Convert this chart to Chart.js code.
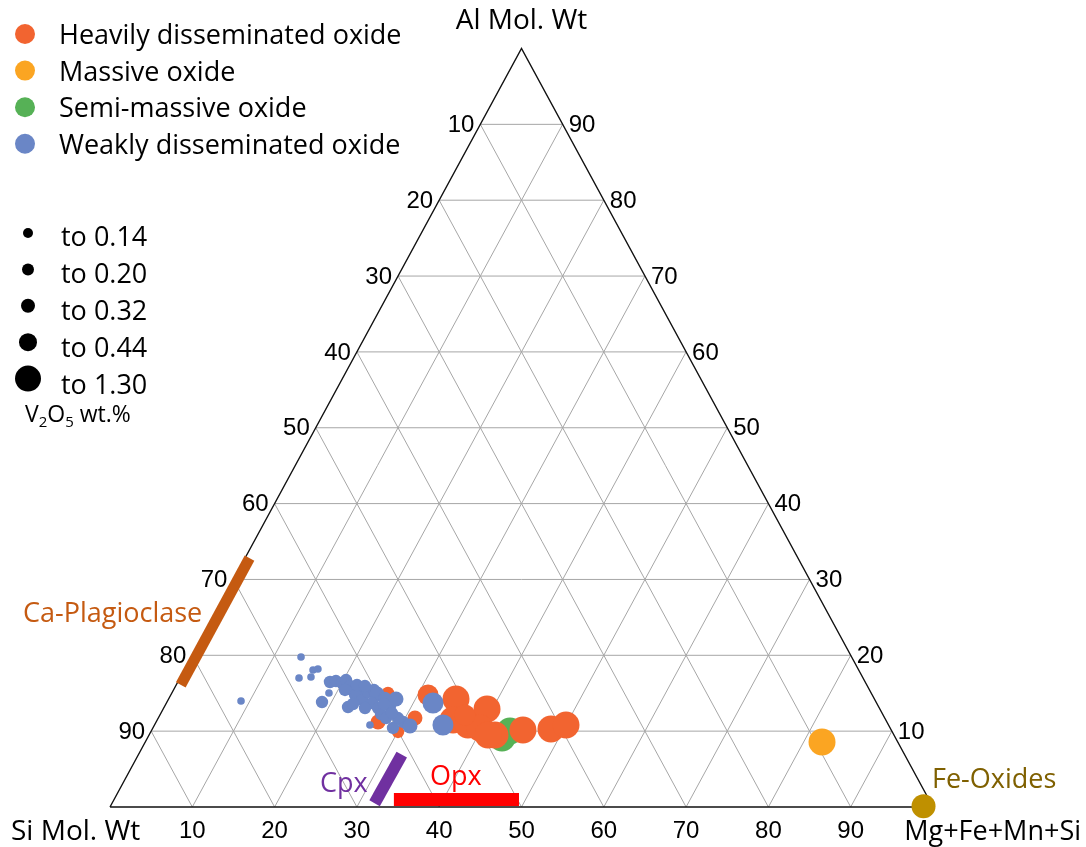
<!DOCTYPE html>
<html>
<head>
<meta charset="utf-8">
<script src="https://cdn.jsdelivr.net/npm/chart.js@4/dist/chart.umd.min.js"></script>
<style>
html,body{margin:0;padding:0;background:#fff;}
#wrap{width:1086px;height:847px;position:relative;}
</style>
</head>
<body>
<div id="wrap"><canvas id="c"></canvas></div>
<script>
// ---------- tick values / labels ----------
const gridTicks = [10, 20, 30, 40, 50, 60, 70, 80, 90];
const leftTickLabels = ['10', '20', '30', '40', '50', '60', '70', '80', '90'];   // placed at Al = 90 ... 10
const rightTickLabels = ['90', '80', '70', '60', '50', '40', '30', '20', '10'];  // placed at Al = 90 ... 10
const bottomTickLabels = ['10', '20', '30', '40', '50', '60', '70', '80', '90']; // Mg+Fe+Mn+Si = 10 ... 90

// ---------- series (ternary: Al %, Mg+Fe+Mn+Si %, V2O5 wt.%) ----------
const heavyAl = [15.03, 11.21, 9.89, 11.73, 14.77, 14.24, 12.92, 11.47, 10.81, 10.42, 9.49, 10.15, 10.28, 10.81, 9.49, 12.13];
const heavyMF = [26.26, 26.96, 30.05, 31.19, 31.26, 34.92, 39.35, 35.94, 38.09, 39.75, 42.03, 45.10, 48.44, 50.00, 41.18, 37.06];
const heavyV  = [0.18, 0.28, 0.18, 0.28, 0.40, 0.80, 0.90, 0.80, 0.80, 0.75, 0.80, 0.85, 0.85, 0.80, 0.75, 0.40];

const massiveAl = [8.57];
const massiveMF = [82.23];
const massiveV  = [0.85];

const semiAl = [9.10, 10.02];
const semiMF = [43.08, 43.59];
const semiV  = [0.80, 0.85];

const weakAl = [13.98, 19.78, 18.06, 18.19, 17.01, 17.14, 15.03, 13.84, 16.48, 16.61, 16.35, 16.74, 15.95, 15.56, 15.03, 14.77, 14.11, 13.18, 13.58, 15.16, 15.42, 14.90, 13.71, 13.05, 12.26, 11.73, 13.32, 14.24, 14.37, 10.81, 10.42, 11.21, 10.68, 13.71, 10.81, 11.73, 13.05, 16.08, 15.95, 15.43, 13.58, 12.39];
const weakMF = [8.93, 13.32, 15.64, 16.17, 14.46, 15.85, 19.09, 18.84, 18.49, 19.15, 20.02, 20.31, 21.18, 22.11, 22.86, 22.39, 23.57, 22.33, 22.74, 23.77, 24.37, 24.99, 24.98, 26.04, 26.80, 27.67, 27.36, 27.63, 26.22, 26.18, 29.18, 30.00, 31.11, 32.39, 35.05, 29.12, 24.46, 21.97, 23.00, 20.84, 26.50, 28.06];
const weakV  = [0.12, 0.12, 0.12, 0.12, 0.12, 0.12, 0.12, 0.18, 0.18, 0.18, 0.18, 0.18, 0.18, 0.18, 0.18, 0.18, 0.18, 0.18, 0.18, 0.18, 0.18, 0.28, 0.18, 0.18, 0.18, 0.18, 0.18, 0.28, 0.18, 0.12, 0.18, 0.18, 0.28, 0.40, 0.40, 0.18, 0.18, 0.18, 0.18, 0.18, 0.18, 0.18];

// V2O5 size classes (legend)
const sizeLimits = [0.14, 0.20, 0.32, 0.44, 1.30];
const sizeLabels = ['to 0.14', 'to 0.20', 'to 0.32', 'to 0.44', 'to 1.30'];

// reference mineral compositions (ternary Al %, Mg+Fe+Mn+Si %)
const caPlagAl = [16.1, 32.8]; const caPlagMF = [0.55, 0.55];
const cpxAl = [0.5, 6.9];       const cpxMF = [31.9, 32.0];
const opxAl = [0.99, 0.99];     const opxMF = [34.0, 49.2];
const feOxAl = [0.1];           const feOxMF = [98.8];

// ---------- helpers ----------
const tern = (mf, al) => ({ x: mf + al / 2, y: al });
const radiusFor = v => { const r = [3.8, 6.2, 7.5, 10.5, 13.5]; for (let i = 0; i < sizeLimits.length; i++) if (v <= sizeLimits[i]) return r[i]; return 13.5; };
const pts = (al, mf) => al.map((a, i) => tern(mf[i], a));

const COL = { heavy: '#F26430', massive: '#FBA522', semi: '#56B156', weak: '#6A86C6' };

const datasets = [];
// grid
gridTicks.forEach(k => {
  const g = { showLine: true, borderColor: '#a6a6a6', borderWidth: 1, pointRadius: 0, order: 100, clip: false };
  datasets.push(Object.assign({ data: [tern(0, k), tern(100 - k, k)] }, g));
  datasets.push(Object.assign({ data: [tern(k, 0), tern(k, 100 - k)] }, g));
  datasets.push(Object.assign({ data: [tern(k, 0), tern(0, k)] }, g));
});
// outline
datasets.push({ data: [tern(0, 0), tern(100, 0), tern(0, 100), tern(0, 0)], showLine: true, borderColor: '#111', borderWidth: 1.4, pointRadius: 0, order: 90, clip: false });
// mineral bars
datasets.push({ data: pts(caPlagAl, caPlagMF), showLine: true, borderColor: '#C55A11', borderWidth: 11, borderCapStyle: 'butt', pointRadius: 0, order: 50, clip: false });
datasets.push({ data: pts(cpxAl, cpxMF), showLine: true, borderColor: '#7030A0', borderWidth: 12, borderCapStyle: 'butt', pointRadius: 0, order: 50, clip: false });
datasets.push({ data: pts(opxAl, opxMF), showLine: true, borderColor: '#FF0000', borderWidth: 13, borderCapStyle: 'butt', pointRadius: 0, order: 50, clip: false });
datasets.push({ data: pts(feOxAl, feOxMF), pointRadius: 12, pointBackgroundColor: '#BF9000', pointBorderWidth: 0, order: 5, clip: false });
// series
const series = [
  { label: 'Semi-massive oxide', al: semiAl, mf: semiMF, v: semiV, c: COL.semi, order: 13 },
  { label: 'Massive oxide', al: massiveAl, mf: massiveMF, v: massiveV, c: COL.massive, order: 12 },
  { label: 'Heavily disseminated oxide', al: heavyAl, mf: heavyMF, v: heavyV, c: COL.heavy, order: 11 },
  { label: 'Weakly disseminated oxide', al: weakAl, mf: weakMF, v: weakV, c: COL.weak, order: 10 }
];
series.forEach(s => {
  datasets.push({ label: s.label, data: pts(s.al, s.mf), pointRadius: s.v.map(radiusFor), pointBackgroundColor: s.c, pointBorderWidth: 0, order: s.order, clip: false });
});

const SANS = '"Open Sans", "Noto Sans", sans-serif';
const ARIAL = '"Liberation Sans", Arial, sans-serif';

const textPlugin = {
  id: 'ternaryText',
  afterDatasetsDraw(chart) {
    const ctx = chart.ctx, xs = chart.scales.x, ys = chart.scales.y;
    const P = (mf, al) => ({ x: xs.getPixelForValue(mf + al / 2), y: ys.getPixelForValue(al) });
    const txt = (s, x, y, font, color, align, base) => {
      ctx.font = font; ctx.fillStyle = color; ctx.textAlign = align || 'left'; ctx.textBaseline = base || 'alphabetic'; ctx.fillText(s, x, y);
    };
    ctx.save();
    // tick labels
    gridTicks.forEach((k, i) => {
      const al = 100 - k;
      const l = P(0, al);
      txt(leftTickLabels[i], l.x - 6, l.y + 1, '24px ' + ARIAL, '#000', 'right', 'middle');
      const r = P(100 - al, al);
      txt(rightTickLabels[i], r.x + 6, r.y + 1, '24px ' + ARIAL, '#000', 'left', 'middle');
      const b = P(k, 0);
      txt(bottomTickLabels[i], b.x, b.y + 24, '24px ' + ARIAL, '#000', 'center', 'middle');
    });
    // axis titles
    const top = P(0, 100), bl = P(0, 0), br = P(100, 0);
    txt('Al Mol. Wt', top.x, top.y - 20, '28px ' + SANS, '#000', 'center', 'alphabetic');
    txt('Si Mol. Wt', 11, bl.y + 33, '28px ' + SANS, '#000', 'left', 'alphabetic');
    txt('Mg+Fe+Mn+Si', 1081, br.y + 33, '27px ' + SANS, '#000', 'right', 'alphabetic');
    // mineral labels
    txt('Ca-Plagioclase', 23, 622, '27px ' + SANS, '#C55A11', 'left');
    txt('Cpx', 320, 792, '27px ' + SANS, '#7030A0', 'left');
    txt('Opx', 430, 785, '27px ' + SANS, '#FF0000', 'left');
    txt('Fe-Oxides', 932, 788, '27px ' + SANS, '#7F6000', 'left');
    // legend (series)
    const leg = [['Heavily disseminated oxide', COL.heavy], ['Massive oxide', COL.massive], ['Semi-massive oxide', COL.semi], ['Weakly disseminated oxide', COL.weak]];
    leg.forEach((e, i) => {
      const cy = 34 + i * 36.6;
      ctx.beginPath(); ctx.fillStyle = e[1]; ctx.arc(25, cy, 10, 0, Math.PI * 2); ctx.fill();
      txt(e[0], 59, 44 + i * 36.6, '27px ' + SANS, '#000', 'left');
    });
    // legend (sizes)
    const lr = [5, 6, 7, 9, 13];
    sizeLabels.forEach((s, i) => {
      const cy = 233 + i * 36.4;
      ctx.beginPath(); ctx.fillStyle = '#000'; ctx.arc(28, cy, lr[i], 0, Math.PI * 2); ctx.fill();
      txt(s, 61, 246 + i * 37, '27px ' + SANS, '#000', 'left');
    });
    // V2O5 wt.%
    let x = 25; const yb = 422;
    const part = (s, size, dy) => { ctx.font = size + 'px ' + SANS; ctx.fillStyle = '#000'; ctx.textAlign = 'left'; ctx.textBaseline = 'alphabetic'; ctx.fillText(s, x, yb + dy); x += ctx.measureText(s).width; };
    part('V', 23, 0); part('2', 15, 5); part('O', 23, 0); part('5', 15, 5); part(' wt.%', 23, 0);
    ctx.restore();
  }
};

new Chart(document.getElementById('c'), {
  type: 'scatter',
  data: { datasets },
  options: {
    responsive: true,
    maintainAspectRatio: false,
    animation: false,
    events: [],
    layout: { padding: { left: 110, right: 153, top: 48.5, bottom: 40 } },
    scales: {
      x: { type: 'linear', min: 0, max: 100, display: false },
      y: { type: 'linear', min: 0, max: 100, display: false }
    },
    plugins: { legend: { display: false }, tooltip: { enabled: false } }
  },
  plugins: [textPlugin]
});
</script>
</body>
</html>
